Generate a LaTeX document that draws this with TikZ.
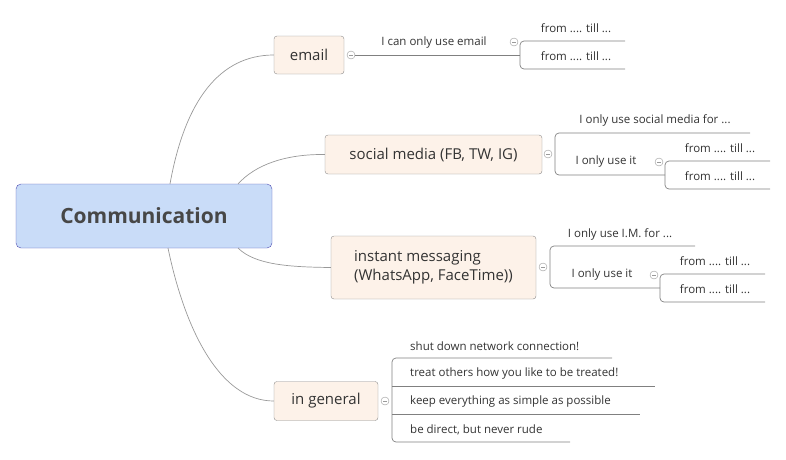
\documentclass[tikz,border=0pt]{standalone}
\usepackage{fontspec}
\setmainfont{Open Sans}
\begin{document}
\definecolor{tx}{HTML}{333333}
\definecolor{ln}{HTML}{808080}
\definecolor{tfill}{HTML}{FDF2E9}
\begin{tikzpicture}[x=1pt,y=-1pt,
  topic/.style={draw=ln!90, fill=tfill, rounded corners=3pt, text=tx, font=\fontsize{15}{19}\selectfont},
  lab/.style={text=tx, font=\fontsize{11.5}{14}\selectfont, inner sep=0pt},
  ul/.style={draw=ln, line width=0.7pt},
  br/.style={draw=ln, line width=0.7pt, rounded corners=4pt},
  edge/.style={draw=ln!80, line width=0.7pt},
  col/.style={circle, draw=ln!80, fill=white, minimum size=8pt, inner sep=0pt, path picture={\draw[ln!80] ([xshift=-2pt]path picture bounding box.center)--([xshift=2pt]path picture bounding box.center);}}]
\useasboundingbox (0,0) rectangle (786,459);
% central
\node[draw=ln!60!blue, fill={rgb,255:red,201;green,220;blue,248}, rounded corners=5pt, minimum width=256pt, minimum height=64pt, text=tx!90, font=\fontsize{21}{24}\selectfont\bfseries] (c) at (144,216) {Communication};
% topics
\node[topic, minimum width=70pt, minimum height=38pt] (em) at (309,55) {email};
\node[topic, minimum width=217pt, minimum height=39pt] (sm) at (433.5,154.5) {social media (FB, TW, IG)};
\node[topic, minimum width=205pt, minimum height=63pt, align=left] (im) at (433.5,267.5) {instant messaging\\(WhatsApp, FaceTime))};
\node[topic, minimum width=104pt, minimum height=39pt] (ge) at (326,401) {in general};
% edges
\coordinate (e1) at (170,184); \coordinate (e2) at (238,184);
\coordinate (e3) at (238,248); \coordinate (e4) at (168,248);
\draw[edge] (e1) .. controls (185,100) and (220,55) .. (em.west);
\draw[edge] (e2) .. controls (255,165) and (285,154) .. (sm.west);
\draw[edge] (e3) .. controls (255,265) and (290,267) .. (im.west);
\draw[edge] (e4) .. controls (185,330) and (220,401) .. (ge.west);
% email
\node[col] (ec) at (351,55) {};
\coordinate (e5) at (520,55);
\draw[ul] (ec.east) -- (e5);
\node[lab] (el) at (434,43) {I can only use email};
\node[col] (ec2) at (514,42) {};
\coordinate (eb1) at (520,41); \coordinate (eb1e) at (625,41);
\coordinate (eb2) at (520,69); \coordinate (eb2e) at (625,69);
\draw[br] (eb1e) -- (eb1) -- (eb2) -- (eb2e);
\node[lab] (ef1) at (576,28) {from .... till ...};
\node[lab] (ef2) at (576,56) {from .... till ...};
% social
\node[col] (sc) at (548,154) {};
\coordinate (sb1) at (555,133); \coordinate (sb1e) at (750,133);
\coordinate (sb2) at (555,175); \coordinate (sb2e) at (665,175);
\draw[br] (sb1e) -- (sb1) -- (sb2) -- (sb2e);
\node[lab] (s1) at (655,120) {I only use social media for ...};
\node[lab] (s2) at (606,162) {I only use it};
\node[col] (sc2) at (659,162) {};
\coordinate (sb3) at (665,161); \coordinate (sb3e) at (770,161);
\coordinate (sb4) at (665,189); \coordinate (sb4e) at (770,189);
\draw[br] (sb3e) -- (sb3) -- (sb4) -- (sb4e);
\node[lab] (s3) at (720,148) {from .... till ...};
\node[lab] (s4) at (720,176) {from .... till ...};
% IM
\node[col] (ic) at (543,267) {};
\coordinate (ib1) at (550,246); \coordinate (ib1e) at (695,246);
\coordinate (ib2) at (550,288); \coordinate (ib2e) at (660,288);
\draw[br] (ib1e) -- (ib1) -- (ib2) -- (ib2e);
\node[lab] (i1) at (620,234) {I only use I.M. for ...};
\node[lab] (i2) at (602,275) {I only use it};
\node[col] (ic2) at (654,275) {};
\coordinate (ib3) at (660,274); \coordinate (ib3e) at (765,274);
\coordinate (ib4) at (660,302); \coordinate (ib4e) at (765,302);
\draw[br] (ib3e) -- (ib3) -- (ib4) -- (ib4e);
\node[lab] (i3) at (715,261) {from .... till ...};
\node[lab] (i4) at (715,289) {from .... till ...};
% general
\node[col] (gc) at (385,401) {};
\coordinate (g1) at (392,358); \coordinate (g1e) at (612,358);
\coordinate (g2) at (392,386); \coordinate (g2e) at (655,386);
\coordinate (g3) at (392,414); \coordinate (g3e) at (640,414);
\coordinate (g4) at (392,442); \coordinate (g4e) at (570,442);
\draw[br] (g1e) -- (g1) -- (g4) -- (g4e);
\draw[ul] (g2) -- (g2e);
\draw[ul] (g3) -- (g3e);
\node[lab, anchor=west] (gt1) at (410,346) {shut down network connection!};
\node[lab, anchor=west] (gt2) at (410,374) {treat others how you like to be treated!};
\node[lab, anchor=west] (gt3) at (410,402) {keep everything as simple as possible};
\node[lab, anchor=west] (gt4) at (410,430) {be direct, but never rude};
\end{tikzpicture}
\end{document}
